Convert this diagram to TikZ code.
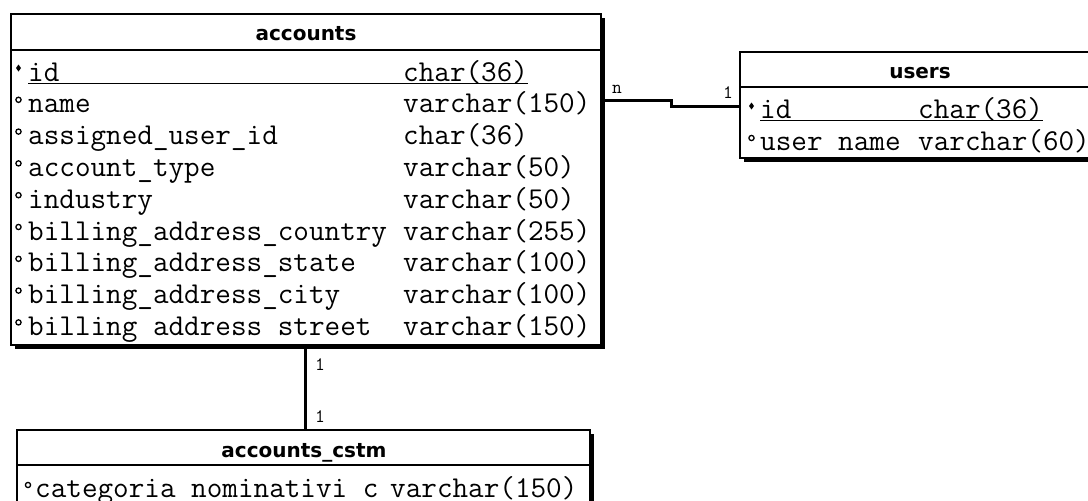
\documentclass[tikz,border=0pt]{standalone}
\usepackage{fontspec}
\usetikzlibrary{calc}
\newfontfamily\headfont{DejaVu Sans}

\tikzset{
  tbl/.style={draw, rectangle, line width=2.5pt, anchor=north west, inner sep=0pt, outer sep=0pt},
  shadowline/.style={line width=2.6pt},
  sepline/.style={line width=2.8pt},
  title/.style={font=\headfont\bfseries\fontsize{20}{24}\selectfont, anchor=base, inner sep=0pt},
  cell/.style={font=\ttfamily\fontsize{30.3}{32}\selectfont, anchor=base west, inner sep=0pt},
  card/.style={font=\ttfamily\fontsize{19}{21}\selectfont, anchor=base west, inner sep=0pt},
  rel/.style={line width=3pt},
  keyline/.style={line width=1.3pt},
  pkmark/.style={fill=black},
  attmark/.style={draw=black, line width=1.3pt, fill=white},
}

\begin{document}
\begin{tikzpicture}[x=1pt, y=-1pt]
\useasboundingbox (0,0) rectangle (1088,501);
\clip (0,0) rectangle (1088,501);

% ---------- accounts ----------
\node[tbl, minimum width=590pt, minimum height=331pt] (acc) at (11,14) {};
\draw[shadowline] ($(acc.north east)+(2.4,4)$) -- ($(acc.south east)+(2.4,2.4)$) -- ($(acc.south west)+(4,2.4)$);
\draw[sepline] ($(acc.north west)+(0,36)$) -- ($(acc.north east)+(0,36)$);
\node[title] (acc-title) at (306,40) {accounts};

\foreach \fname/\ftype [count=\i from 0] in {
  id/char(36),
  name/varchar(150),
  assigned\_user\_id/char(36),
  account\_type/varchar(50),
  industry/varchar(50),
  billing\_address\_country/varchar(255),
  billing\_address\_state/varchar(100),
  billing\_address\_city/varchar(100),
  billing address street/varchar(150)} {
  \node[cell] (acc-n\i) at (28,{81+31.8*\i}) {\fname};
  \node[cell] (acc-t\i) at (403,{81+31.8*\i}) {\ftype};
}
\draw[keyline] ($(acc-n0.base west)+(0,2.5)$) -- ($(acc-t0.base east)+(0,2.5)$);
\fill[pkmark] (18.5,64.5) -- (21,68) -- (18.5,71.5) -- (16,68) -- cycle;
\foreach \i in {1,...,8} {
  \draw[attmark] (18.5,{81+31.8*\i-13}) circle (2.6);
}

% ---------- users ----------
\node[tbl, minimum width=360pt, minimum height=106pt] (usr) at (740,52) {};
\draw[shadowline] ($(usr.south east)+(2.4,2.4)$) -- ($(usr.south west)+(4,2.4)$);
\draw[sepline] ($(usr.north west)+(0,35)$) -- ($(usr.north east)+(0,35)$);
\node[title] (usr-title) at (920,78) {users};
\node[cell] (usr-n0) at (760,118) {id};
\node[cell] (usr-t0) at (918,118) {char(36)};
\node[cell] (usr-n1) at (760,150) {user name};
\node[cell] (usr-t1) at (918,150) {varchar(60)};
\draw[keyline] ($(usr-n0.base west)+(0,2.5)$) -- ($(usr-t0.base east)+(0,2.5)$);
\fill[pkmark] (751.5,102.5) -- (754,106) -- (751.5,109.5) -- (749,106) -- cycle;
\draw[attmark] (751.5,138) circle (2.6);

% ---------- accounts_cstm ----------
\node[tbl, minimum width=573pt, minimum height=100pt] (cst) at (17,430) {};
\draw[shadowline] ($(cst.north east)+(2.4,4)$) -- ($(cst.south east)+(2.4,2.4)$);
\draw[sepline] ($(cst.north west)+(0,35)$) -- ($(cst.north east)+(0,35)$);
\node[title] (cst-title) at (304,457) {accounts\_cstm};
\begin{scope}
  \clip (20,468) rectangle (584,501);
  \node[cell] (cst-n0) at (35,497) {categoria nominativi c};
  \node[cell] (cst-t0) at (390,497) {varchar(150)};
\end{scope}
\draw[attmark] (28,485) circle (2.6);

% ---------- relations ----------
\coordinate (a1) at ($(acc.north east)+(0,86)$);
\coordinate (u1) at ($(usr.north west)+(0,54.5)$);
\draw[rel] (a1) -- ++(70,0) |- (u1);
\node[card] (lbl-n) at (612,93) {n};
\node[card] (lbl-u1) at (723,98) {1};

\coordinate (a2) at ($(acc.south west)+(294,0)$);
\coordinate (c2) at ($(cst.north west)+(288,0)$);
\draw[rel] (a2) -- (c2);
\node[card] (lbl-a2) at (315,370) {1};
\node[card] (lbl-c2) at (315,422) {1};
\end{tikzpicture}
\end{document}
